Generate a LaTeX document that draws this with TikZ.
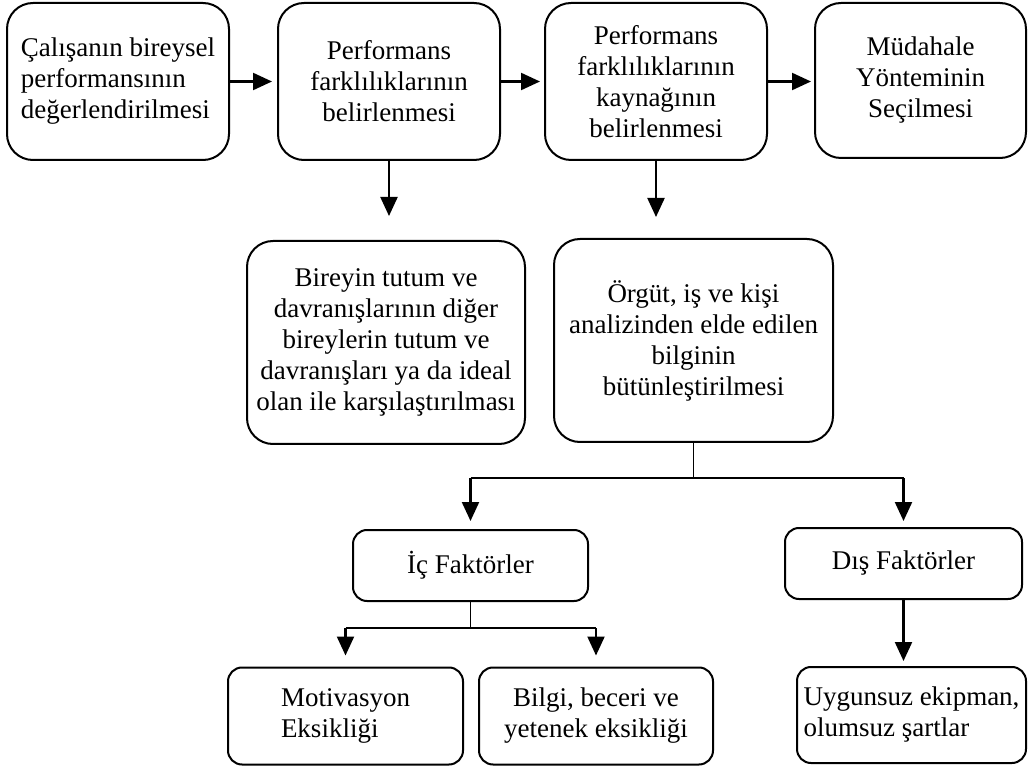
\documentclass[tikz,border=0pt]{standalone}
\usepackage{fontspec}
\setmainfont{Liberation Serif}
\usetikzlibrary{arrows.meta}

\begin{document}
\begin{tikzpicture}[x=1pt, y=-1pt,
        box/.style={draw, line width=2pt, rounded corners=26pt, inner sep=4pt,
            font=\fontsize{27}{31}\selectfont, align=center},
        smallbox/.style={box, rounded corners=14pt},
        flow/.style={line width=2.2pt, -{Triangle[length=19pt,width=17pt]}},
        branch/.style={line width=1.1pt}]
        \useasboundingbox[fill=white] (0,0) rectangle (1029,767);
        % Top row of steps
        \node[box, minimum width=222pt, minimum height=157pt, align=left] (eval) at (118,81.5) {Çalışanın bireysel\\performansının\\değerlendirilmesi};
        \node[box, minimum width=222pt, minimum height=157pt] (diff) at (389,81.5) {Performans\\farklılıklarının\\belirlenmesi};
        \node[box, minimum width=222pt, minimum height=157pt] (source) at (656,81.5) {Performans\\farklılıklarının\\kaynağının\\belirlenmesi};
        \node[box, minimum width=211pt, minimum height=155pt] (method) at (920.5,80.5) {Müdahale\\Yönteminin\\Seçilmesi};
        % Second row
        \node[box, minimum width=278pt, minimum height=203pt] (compare) at (386,342.5) {Bireyin tutum ve\\davranışlarının diğer\\bireylerin tutum ve\\davranışları ya da ideal\\olan ile karşılaştırılması};
        \node[box, minimum width=279pt, minimum height=203pt] (integrate) at (693.5,340.5) {Örgüt, iş ve kişi\\analizinden elde edilen\\bilginin\\bütünleştirilmesi};
        % Factors
        \node[smallbox, minimum width=235pt, minimum height=71pt] (inner) at (470.5,565.5) {İç Faktörler};
        \node[smallbox, minimum width=237pt, minimum height=71pt] (outer) at (903.5,563.5) {Dış Faktörler};
        \node[smallbox, minimum width=235pt, minimum height=97pt, align=left] (motiv) at (345.5,716) {Motivasyon\\Eksikliği};
        \node[smallbox, minimum width=234pt, minimum height=97pt] (skill) at (596,716) {Bilgi, beceri ve\\yetenek eksikliği};
        \node[smallbox, minimum width=229pt, minimum height=96pt, align=left] (equip) at (911.5,715) {Uygunsuz ekipman,\\olumsuz şartlar};
        % Arrows along the top row
        \draw[flow, shorten >=5pt] (eval) -- (diff);
        \draw[flow, shorten >=4pt] (diff) -- (source);
        \draw[flow, shorten >=3pt] (source.east) -- (source.east -| method.west);
        % Arrows down to the second row
        \draw[flow, shorten >=24pt] (diff.south) -- (diff.south |- compare.north);
        \draw[flow, shorten >=21pt] (source.south) -- (source.south |- integrate.north);
        % Split to inner and outer factors
        \coordinate (split) at ([yshift=-35pt]integrate.south);
        \coordinate (splitL) at (split -| inner.north);
        \coordinate (splitR) at (split -| outer.north);
        \draw[branch] (integrate.south) -- (split);
        \draw[branch] (splitL) -- (splitR);
        \draw[flow, shorten >=8pt] (splitL) -- (inner.north);
        \draw[flow, shorten >=6pt] (splitR) -- (outer.north);
        % Split below inner factors
        \coordinate (split2) at ([yshift=-26pt]inner.south);
        \coordinate (split2L) at (split2 -| motiv.north);
        \coordinate (split2R) at (split2 -| skill.north);
        \draw[branch] (inner.south) -- (split2);
        \draw[branch] (split2L) -- (split2R);
        \draw[flow, shorten >=11pt] (split2L) -- (motiv.north);
        \draw[flow, shorten >=11pt] (split2R) -- (skill.north);
        \draw[flow, shorten >=5pt] (outer.south) -- (outer.south |- equip.north);
\end{tikzpicture}
\end{document}
